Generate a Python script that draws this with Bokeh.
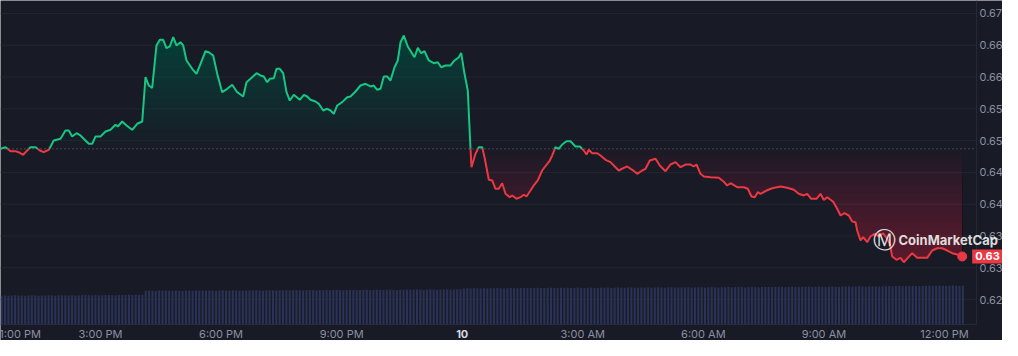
import numpy as np
from bokeh.plotting import figure
from bokeh.models import Range1d, Label
from bokeh.core.properties import value
from bokeh.embed import file_html
from bokeh.resources import INLINE

# ---------------- data ----------------
# time in hours since 00:00 of the 9th (24 = midnight "10")
hours = [12.512, 12.636, 12.761, 12.885, 12.960, 13.077, 13.159, 13.258, 13.383, 13.490,
         13.589, 13.714, 13.838, 14.005, 14.129, 14.211, 14.296, 14.403, 14.502, 14.627,
         14.709, 14.794, 14.876, 15.000, 15.124, 15.249, 15.373, 15.431, 15.540, 15.647,
         15.789, 15.913, 16.038, 16.120, 16.202, 16.286, 16.393, 16.476, 16.560, 16.642,
         16.724, 16.809, 16.891, 16.991, 17.058, 17.140, 17.282, 17.389, 17.488, 17.613,
         17.695, 17.804, 17.904, 18.028, 18.153, 18.277, 18.401, 18.551, 18.633, 18.732,
         18.882, 18.981, 19.063, 19.148, 19.213, 19.312, 19.379, 19.461, 19.546, 19.628,
         19.710, 19.810, 19.959, 20.059, 20.143, 20.225, 20.350, 20.432, 20.541, 20.641,
         20.723, 20.805, 20.890, 21.014, 21.138, 21.220, 21.345, 21.469, 21.594, 21.718,
         21.800, 21.885, 21.967, 22.049, 22.134, 22.216, 22.315, 22.397, 22.465, 22.547,
         22.646, 22.813, 22.895, 22.980, 23.062, 23.169, 23.293, 23.393, 23.477, 23.584,
         23.709, 23.808, 23.915, 23.975, 24.057, 24.139, 24.206, 24.231, 24.331, 24.413,
         24.497, 24.555, 24.662, 24.746, 24.828, 24.910, 24.995, 25.077, 25.184, 25.244,
         25.351, 25.450, 25.533, 25.600, 25.699, 25.781, 25.881, 25.990, 26.097, 26.180,
         26.239, 26.321, 26.403, 26.488, 26.595, 26.695, 26.819, 26.926, 27.025, 27.093,
         27.150, 27.235, 27.359, 27.441, 27.565, 27.690, 27.814, 27.896, 28.021, 28.105,
         28.230, 28.354, 28.479, 28.561, 28.668, 28.810, 28.916, 29.058, 29.183, 29.307,
         29.432, 29.556, 29.680, 29.763, 29.830, 29.929, 30.011, 30.178, 30.385, 30.494,
         30.593, 30.676, 30.842, 31.007, 31.106, 31.198, 31.280, 31.355, 31.422, 31.571,
         31.713, 31.920, 32.086, 32.251, 32.375, 32.499, 32.584, 32.684, 32.815, 32.915,
         32.997, 33.082, 33.231, 33.330, 33.413, 33.512, 33.619, 33.704, 33.786, 33.828,
         33.910, 33.977, 34.077, 34.159, 34.259, 34.366, 34.475, 34.557, 34.639, 34.699,
         34.806, 34.906, 34.988, 35.087, 35.197, 35.321, 35.445, 35.570, 35.694, 35.819,
         35.943, 36.068, 36.192, 36.316, 36.441]

prices = [0.64871, 0.64896, 0.64834, 0.64834, 0.64818, 0.64777, 0.64834, 0.64896, 0.64896, 0.64845,
          0.64818, 0.64856, 0.65002, 0.65029, 0.65159, 0.65159, 0.65065, 0.65117, 0.65081, 0.65002,
          0.64950, 0.64950, 0.65065, 0.65065, 0.65144, 0.65170, 0.65249, 0.65222, 0.65301, 0.65238,
          0.65170, 0.65265, 0.65301, 0.65998, 0.65867, 0.65831, 0.66497, 0.66586, 0.66586, 0.66454,
          0.66481, 0.66627, 0.66497, 0.66548, 0.66497, 0.66261, 0.66130, 0.66051, 0.66209, 0.66407,
          0.66391, 0.66339, 0.66051, 0.65762, 0.65815, 0.65878, 0.65762, 0.65694, 0.65919, 0.65973,
          0.66061, 0.66025, 0.66009, 0.65919, 0.65973, 0.65982, 0.66130, 0.66130, 0.66061, 0.65762,
          0.65631, 0.65721, 0.65642, 0.65721, 0.65694, 0.65642, 0.65616, 0.65579, 0.65474, 0.65501,
          0.65474, 0.65422, 0.65553, 0.65605, 0.65683, 0.65694, 0.65773, 0.65867, 0.65894, 0.65852,
          0.65867, 0.65800, 0.65815, 0.66009, 0.66009, 0.65946, 0.66155, 0.66261, 0.66548, 0.66654,
          0.66481, 0.66312, 0.66460, 0.66375, 0.66407, 0.66261, 0.66218, 0.66234, 0.66155, 0.66182,
          0.66182, 0.66261, 0.66312, 0.66380, 0.66051, 0.65789, 0.64871, 0.64582, 0.64793, 0.64896,
          0.64896, 0.64739, 0.64384, 0.64373, 0.64242, 0.64242, 0.64330, 0.64163, 0.64110, 0.64137,
          0.64085, 0.64110, 0.64148, 0.64121, 0.64215, 0.64294, 0.64373, 0.64530, 0.64620, 0.64687,
          0.64766, 0.64896, 0.64871, 0.64939, 0.64991, 0.64991, 0.64908, 0.64908, 0.64845, 0.64782,
          0.64856, 0.64802, 0.64802, 0.64766, 0.64698, 0.64661, 0.64582, 0.64530, 0.64572, 0.64593,
          0.64541, 0.64478, 0.64530, 0.64557, 0.64687, 0.64714, 0.64609, 0.64519, 0.64624, 0.64661,
          0.64582, 0.64624, 0.64624, 0.64593, 0.64624, 0.64478, 0.64436, 0.64425, 0.64415, 0.64362,
          0.64294, 0.64330, 0.64267, 0.64267, 0.64242, 0.64121, 0.64110, 0.64189, 0.64163, 0.64215,
          0.64251, 0.64278, 0.64258, 0.64226, 0.64163, 0.64137, 0.64163, 0.64085, 0.64085, 0.64163,
          0.64066, 0.64110, 0.64039, 0.63927, 0.63822, 0.63858, 0.63822, 0.63728, 0.63717, 0.63586,
          0.63429, 0.63481, 0.63402, 0.63492, 0.63534, 0.63492, 0.63543, 0.63471, 0.63377, 0.63177,
          0.63125, 0.63156, 0.63087, 0.63156, 0.63229, 0.63156, 0.63156, 0.63156, 0.63271, 0.63307,
          0.63307, 0.63271, 0.63229, 0.63208, 0.63177]

# 5-minute volume bars (24h rolling volume, $M), one row per hour starting 12:30 PM
volume = [
    738, 741, 736, 740, 743, 739, 742, 737, 740, 744, 741, 738,
    742, 739, 745, 741, 738, 743, 746, 740, 742, 745, 741, 744,
    745, 748, 743, 747, 750, 746, 744, 749, 751, 747, 745, 750,
    752, 748, 754, 750, 753, 749, 755, 832, 838, 834, 830, 836,
    833, 837, 831, 835, 839, 834, 830, 836, 840, 833, 837, 835,
    838, 834, 840, 836, 832, 839, 843, 837, 835, 841, 838, 834,
    840, 836, 842, 838, 844, 839, 835, 841, 845, 840, 837, 843,
    842, 846, 840, 844, 848, 843, 839, 845, 849, 844, 841, 847,
    846, 850, 844, 848, 852, 847, 843, 849, 853, 848, 845, 851,
    850, 854, 848, 852, 856, 851, 847, 853, 857, 852, 849, 855,
    854, 858, 852, 856, 860, 855, 851, 857, 861, 856, 853, 859,
    858, 862, 856, 860, 864, 866, 878, 884, 880, 886, 882, 879,
    884, 880, 886, 882, 888, 883, 879, 885, 889, 884, 881, 887,
    886, 890, 884, 888, 892, 887, 883, 889, 893, 888, 885, 891,
    889, 893, 887, 891, 895, 890, 886, 892, 896, 891, 888, 894,
    892, 896, 890, 894, 898, 893, 889, 895, 899, 894, 891, 897,
    895, 899, 893, 897, 901, 896, 892, 898, 902, 897, 894, 900,
    898, 902, 896, 900, 904, 899, 895, 901, 905, 900, 897, 903,
    902, 906, 900, 904, 908, 903, 899, 905, 909, 904, 901, 907,
    906, 910, 904, 908, 912, 907, 903, 909, 913, 908, 905, 911,
    910, 914, 908, 912, 916, 911, 907, 913, 917, 912, 909, 915,
    915, 919, 913, 917, 921, 916, 912, 918, 922, 917, 914, 920,
    922, 926, 920, 924, 928, 923, 919, 925, 929, 924, 921, 927,
    930, 934, 928, 932, 936, 931, 927, 933, 937, 932, 929, 935,
]
vol_start = 12.5   # first 5-min bar opens 12:30 PM
vol_step = 1 / 12  # 5 minutes in hours
vol_floor = 175    # volume axis baseline

x_ticks = [13, 15, 18, 21, 24, 27, 30, 33, 36]
x_tick_labels = ["1:00 PM", "3:00 PM", "6:00 PM", "9:00 PM", "10", "3:00 AM", "6:00 AM", "9:00 AM", "12:00 PM"]
y_ticks = [0.625, 0.630, 0.635, 0.640, 0.645, 0.650, 0.655, 0.660, 0.665, 0.670]
y_tick_labels = ["0.62", "0.63", "0.63", "0.64", "0.64", "0.65", "0.65", "0.66", "0.66", "0.67"]

# ---------------- style / layout ----------------
BG = "#181a25"
GREEN = "#16c784"
RED = "#ea3943"
GRID = "#23252f"
EDGE = "#252835"
TXT = "#8a90a2"
FONT = "Inter"

W, H = 1002, 340
px_h = 0.024882                   # hours per pixel
px_p = 0.00015733                 # price per pixel
X0 = 12.5118
X1 = X0 + W * px_h
Y1 = 0.672045
Y0 = Y1 - H * px_p
PANE_R = X0 + 976 * px_h          # right edge of the price pane
PANE_B = Y1 - 324 * px_p          # bottom edge of the price pane
XLAB_Y = Y1 - 333 * px_p          # time labels row

p = figure(width=W, height=H, x_range=Range1d(X0, X1), y_range=Range1d(Y0, Y1),
           output_backend="svg", toolbar_location=None,
           x_axis_location=None, y_axis_location=None,
           background_fill_color=BG, border_fill_color=BG, outline_line_color=None,
           min_border=0)
for g in p.grid:
    g.visible = False

# horizontal grid at the price ticks
p.segment(x0=X0, x1=PANE_R, y0=y_ticks, y1=y_ticks, line_color=GRID, line_width=1)
# pane borders
p.segment(x0=[X0, PANE_R], x1=[PANE_R, PANE_R], y0=[PANE_B, PANE_B], y1=[PANE_B, Y1],
          line_color=EDGE, line_width=1)

# volume (own range)
vk = 0.05128  # px per volume unit
p.extra_y_ranges = {"vol": Range1d(vol_floor - (H - 324) / vk, vol_floor + 324 / vk)}
vol_x = vol_start + vol_step * (np.arange(len(volume)) + 0.5)
p.vbar(x=vol_x, top=volume, bottom=vol_floor, width=vol_step * 0.62, y_range_name="vol",
       fill_color="#2a3256", line_color=None)

# price series, split at baseline
base = prices[0]
x = np.array(hours)
y = np.array(prices)
xs, ys = [x[0]], [y[0]]
for i in range(1, len(x)):
    d0, d1 = y[i - 1] - base, y[i] - base
    if d0 * d1 < 0:
        t = d0 / (d0 - d1)
        xs.append(x[i - 1] + t * (x[i] - x[i - 1]))
        ys.append(base)
    xs.append(x[i])
    ys.append(y[i])
xs = np.array(xs)
ys = np.array(ys)

# gradient fills made of stacked translucent bands
N = 24
for k in range(N):
    lvl = base + (Y1 - base) * k / N
    p.varea(x=xs, y1=np.full_like(ys, lvl), y2=np.maximum(ys, lvl),
            fill_color=GREEN, fill_alpha=0.015)
for k in range(N):
    lvl = base - (base - PANE_B) * k / N
    p.varea(x=xs, y1=np.minimum(ys, lvl), y2=np.full_like(ys, lvl),
            fill_color=RED, fill_alpha=0.022)

# dotted baseline (opening price)
p.segment(x0=X0, x1=PANE_R, y0=base, y1=base, line_color="#6f7588",
          line_dash="1 3", line_width=1)

gy = np.where(ys >= base, ys, np.nan)
ry = np.where(ys <= base, ys, np.nan)
p.line(xs, gy, line_color=GREEN, line_width=2)
p.line(xs, ry, line_color=RED, line_width=2)

p.scatter(x=[hours[-1]], y=[prices[-1]], size=9, fill_color=RED, line_color=RED)

# price scale labels
p.text(x=PANE_R + 3 * px_h, y=y_ticks, text=y_tick_labels, text_font=value(FONT),
       text_font_size="11px", text_color=TXT, text_align="left", text_baseline="middle")

# time scale labels ("10" = day change, bold)
norm = [(t, l) for t, l in zip(x_ticks, x_tick_labels) if l != "10"]
bold = [(t, l) for t, l in zip(x_ticks, x_tick_labels) if l == "10"]
p.text(x=[t for t, _ in norm], y=XLAB_Y, text=[l for _, l in norm], text_font=value(FONT),
       text_font_size="11px", text_color=TXT, text_align="center", text_baseline="middle")
p.text(x=[t for t, _ in bold], y=XLAB_Y, text=[l for _, l in bold], text_font=value(FONT),
       text_font_size="11px", text_font_style="bold", text_color="#d5d8e0",
       text_align="center", text_baseline="middle")

# watermark
wm_y = 0.63429
p.add_layout(Label(x=X0 + 884 * px_h, y=wm_y, text="Ⓜ", text_font="DejaVu Sans",
                   text_font_size="23px", text_color="white", text_alpha=0.85,
                   text_align="center", text_baseline="middle"))
p.add_layout(Label(x=X0 + 898 * px_h, y=wm_y, text="CoinMarketCap", text_font=FONT,
                   text_font_size="13px", text_font_style="bold", text_color="white",
                   text_alpha=0.85, text_align="left", text_baseline="middle"))

# last price tag
p.add_layout(Label(x=X0 + 987 * px_h, y=prices[-1], text=f"{prices[-1]:.2f}",
                   text_font=FONT, text_font_size="11px", text_font_style="bold",
                   text_color="white", text_align="center", text_baseline="middle",
                   background_fill_color=RED, padding=3))

open("out.html", "w").write(file_html(p, INLINE))
